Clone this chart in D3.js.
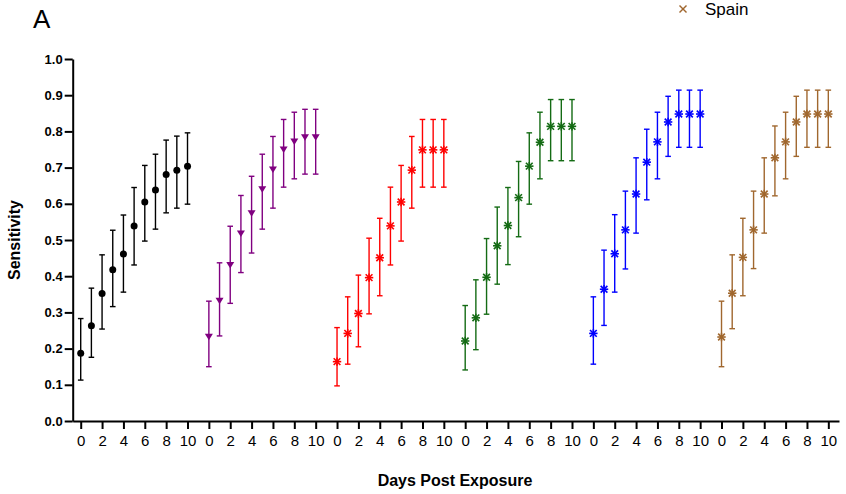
<!DOCTYPE html>
<html><head><meta charset="utf-8">
<script src="https://cdn.jsdelivr.net/npm/d3@7"></script>
<style>body{margin:0;background:#fff}svg{display:block}text{font-family:"Liberation Sans",Arial,sans-serif}</style>
</head><body>
<script>
const days = [0,1,2,3,4,5,6,7,8,9,10];
const groupNames = ["G1","G2","G3","G4","G5","Spain"];
const groupColors = ["#000000","#800080","#ff0000","#146b14","#0000ff","#a0672e"];
const groupShapes = ["circle","triangle","asterisk","asterisk","asterisk","asterisk"];
const mean1 = [0.187,0.263,0.352,0.418,0.461,0.539,0.605,0.638,0.681,0.693,0.704];
const lo1   = [0.113,0.176,0.254,0.316,0.356,0.431,0.497,0.530,0.575,0.588,0.599];
const hi1   = [0.283,0.367,0.459,0.527,0.569,0.645,0.706,0.737,0.776,0.787,0.796];
const mean2 = [0.233,0.332,0.431,0.518,0.574,0.640,0.695,0.750,0.772,0.784,0.784];
const lo2   = [0.150,0.235,0.325,0.410,0.464,0.530,0.588,0.646,0.669,0.682,0.682];
const hi2   = [0.331,0.437,0.538,0.623,0.676,0.737,0.786,0.833,0.853,0.861,0.861];
const mean3 = [0.164,0.242,0.297,0.396,0.451,0.539,0.605,0.693,0.749,0.749,0.749];
const lo3   = [0.097,0.157,0.205,0.296,0.346,0.431,0.497,0.588,0.646,0.646,0.646];
const hi3   = [0.258,0.343,0.403,0.505,0.560,0.646,0.706,0.786,0.833,0.833,0.833];
const mean4 = [0.221,0.285,0.397,0.484,0.540,0.617,0.704,0.770,0.814,0.814,0.814];
const lo4   = [0.141,0.197,0.295,0.378,0.432,0.509,0.599,0.669,0.719,0.719,0.719];
const hi4   = [0.319,0.390,0.504,0.591,0.645,0.717,0.796,0.853,0.888,0.888,0.888];
const mean5 = [0.242,0.364,0.462,0.528,0.627,0.715,0.771,0.826,0.848,0.848,0.848];
const lo5   = [0.157,0.264,0.356,0.420,0.519,0.611,0.669,0.731,0.756,0.756,0.756];
const hi5   = [0.343,0.472,0.570,0.635,0.727,0.806,0.853,0.897,0.914,0.914,0.914];
const mean6 = [0.232,0.353,0.452,0.528,0.627,0.727,0.771,0.826,0.848,0.848,0.848];
const lo6   = [0.150,0.255,0.346,0.421,0.519,0.622,0.669,0.731,0.756,0.756,0.756];
const hi6   = [0.331,0.459,0.560,0.635,0.727,0.815,0.853,0.897,0.914,0.914,0.914];
const yTicks = [0,0.1,0.2,0.3,0.4,0.5,0.6,0.7,0.8,0.9,1.0];
const xTickDays = [0,2,4,6,8,10];

const means=[mean1,mean2,mean3,mean4,mean5,mean6];
const los=[lo1,lo2,lo3,lo4,lo5,lo6];
const his=[hi1,hi2,hi3,hi4,hi5,hi6];
const slotsPerGroup = 12;

const W=846,H=494;
const svg=d3.select("body").append("svg").attr("width",W).attr("height",H);
const x=d3.scaleLinear().domain([-0.75,71]).range([72.7,839]);
const y=d3.scaleLinear().domain([0,1]).range([421,59]);

const rows=[];
groupNames.forEach((g,gi)=>days.forEach((d,di)=>rows.push({g:gi,d,slot:gi*slotsPerGroup+d,m:means[gi][di],lo:los[gi][di],hi:his[gi][di]})));

const xTickVals=[];
groupNames.forEach((g,gi)=>xTickDays.forEach(d=>xTickVals.push(gi*slotsPerGroup+d)));
const xAxis=d3.axisBottom(x).tickValues(xTickVals).tickSize(8).tickSizeOuter(0).tickFormat(v=>String(v%slotsPerGroup)).tickPadding(6);
const gx=svg.append("g").attr("transform",`translate(0,${y(0)})`).call(xAxis);
gx.select(".domain").attr("stroke","#000").attr("stroke-width",2);
gx.selectAll(".tick line").attr("stroke","#000").attr("stroke-width",2);
gx.selectAll(".tick text").attr("font-size",15).attr("fill","#000").attr("font-family","'Liberation Sans',Arial,sans-serif").attr("dy","0.7em");

const yAxis=d3.axisLeft(y).tickValues(yTicks).tickSize(8).tickSizeOuter(0).tickFormat(d3.format(".1f")).tickPadding(2);
const gy=svg.append("g").attr("transform",`translate(${x(-0.75)},0)`).call(yAxis);
gy.select(".domain").attr("stroke","#000").attr("stroke-width",2);
gy.selectAll(".tick line").attr("stroke","#000").attr("stroke-width",2);
gy.selectAll(".tick text").attr("font-size",13).attr("font-weight","bold").attr("fill","#000").attr("font-family","'Liberation Sans',Arial,sans-serif");

const eb=svg.append("g");
eb.selectAll("line.v").data(rows).join("line").attr("class","v")
  .attr("x1",r=>x(r.slot)).attr("x2",r=>x(r.slot)).attr("y1",r=>y(r.lo)).attr("y2",r=>y(r.hi))
  .attr("stroke",r=>groupColors[r.g]).attr("stroke-width",1.4);
["lo","hi"].forEach(k=>{
  eb.selectAll("line.c"+k).data(rows).join("line").attr("class","c"+k)
    .attr("x1",r=>x(r.slot)-2.8).attr("x2",r=>x(r.slot)+2.8).attr("y1",r=>y(r[k])).attr("y2",r=>y(r[k]))
    .attr("stroke",r=>groupColors[r.g]).attr("stroke-width",1.4);
});

const mk=svg.append("g");
rows.forEach(r=>{
  const cx=x(r.slot), cy=y(r.m), c=groupColors[r.g], s=groupShapes[r.g];
  if(s==="circle"){
    mk.append("circle").attr("cx",cx).attr("cy",cy).attr("r",3.5).attr("fill",c);
  } else if(s==="triangle"){
    mk.append("path").attr("d",`M${cx-4},${cy-3} L${cx+4},${cy-3} L${cx},${cy+3.5} Z`).attr("fill",c);
  } else {
    const a=4.2;
    const g=mk.append("g").attr("stroke",c).attr("stroke-width",1.6);
    g.append("line").attr("x1",cx-a).attr("x2",cx+a).attr("y1",cy).attr("y2",cy);
    g.append("line").attr("x1",cx).attr("x2",cx).attr("y1",cy-a).attr("y2",cy+a);
    g.append("line").attr("x1",cx-a*0.8).attr("x2",cx+a*0.8).attr("y1",cy-a*0.8).attr("y2",cy+a*0.8);
    g.append("line").attr("x1",cx-a*0.8).attr("x2",cx+a*0.8).attr("y1",cy+a*0.8).attr("y2",cy-a*0.8);
  }
});

svg.append("text").attr("x",455).attr("y",486).attr("text-anchor","middle").attr("font-size",16).attr("font-weight","bold").text("Days Post Exposure");
svg.append("text").attr("transform","translate(20,240) rotate(-90)").attr("text-anchor","middle").attr("font-size",16).attr("font-weight","bold").text("Sensitivity");
svg.append("text").attr("x",33).attr("y",28).attr("font-size",26).text("A");

// Legend fragment: × marker drawn as lines, label as text
const lx=683, ly=9, ls=3.5;
const lg=svg.append("g").attr("stroke",groupColors[5]).attr("stroke-width",1.4);
lg.append("line").attr("x1",lx-ls).attr("y1",ly-ls).attr("x2",lx+ls).attr("y2",ly+ls);
lg.append("line").attr("x1",lx-ls).attr("y1",ly+ls).attr("x2",lx+ls).attr("y2",ly-ls);
svg.append("text").attr("x",705).attr("y",15).attr("font-size",17).attr("fill","#000").text("Spain");
</script>
</body></html>
